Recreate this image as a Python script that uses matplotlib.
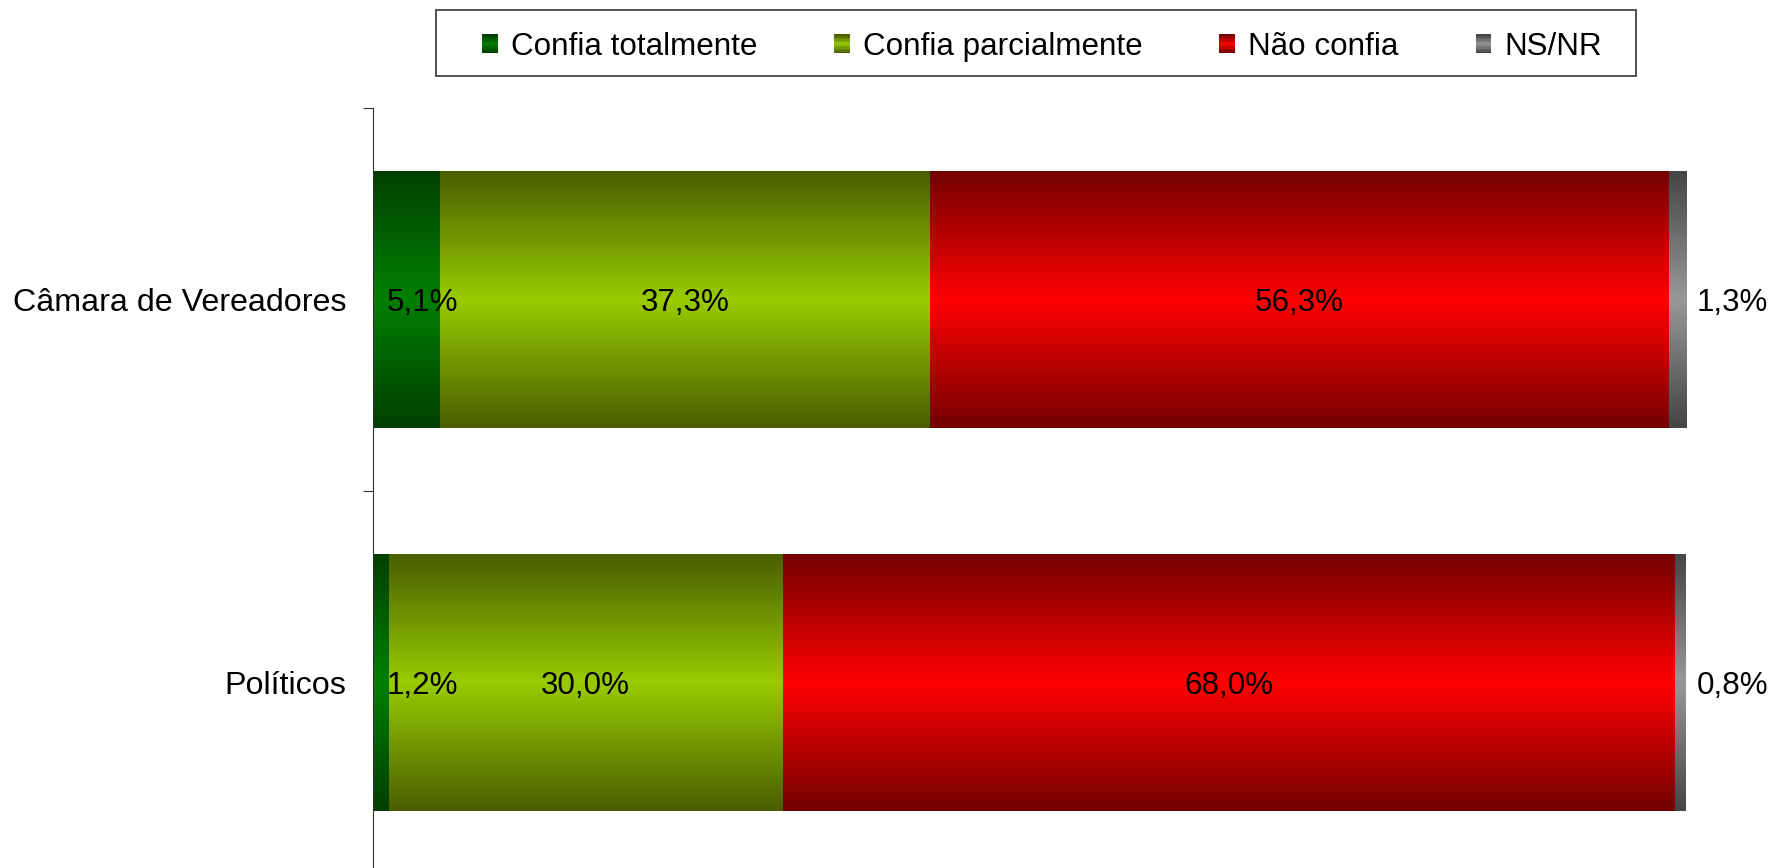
import numpy as np
import matplotlib
matplotlib.use('Agg')
import matplotlib.pyplot as plt
import matplotlib.patches as mpatches
from matplotlib.legend_handler import HandlerBase

plt.rcParams['font.family'] = ['Liberation Sans', 'DejaVu Sans']

# dados
categorias = ["Políticos", "Câmara de Vereadores"]
series = ["Confia totalmente", "Confia parcialmente", "Não confia", "NS/NR"]
confia_totalmente = [1.2, 5.1]
confia_parcialmente = [30.0, 37.3]
nao_confia = [68.0, 56.3]
ns_nr = [0.8, 1.3]
valores = [confia_totalmente, confia_parcialmente, nao_confia, ns_nr]

# cores: (centro, borda) do degradê
cores = {
    "Confia totalmente": ("#008000", "#003f00"),
    "Confia parcialmente": ("#99cc00", "#4a5e00"),
    "Não confia": ("#ff0000", "#730000"),
    "NS/NR": ("#989898", "#454545"),
}


def degrade(centro, borda, n=200):
    c = np.array(matplotlib.colors.to_rgb(centro))
    b = np.array(matplotlib.colors.to_rgb(borda))
    s = np.abs(np.linspace(-1, 1, n))[:, None]
    return (c * (1 - s) + b * s)[:, None, :]


class GradHandler(HandlerBase):
    def create_artists(self, legend, orig_handle, xdescent, ydescent,
                       width, height, fontsize, trans):
        centro, borda = cores[orig_handle.get_label()]
        grad = degrade(centro, borda, 12)[:, 0, :]
        arts = []
        n = len(grad)
        for i, col in enumerate(grad):
            r = mpatches.Rectangle((-xdescent, -ydescent + height * i / n),
                                   width, height / n + 0.3, facecolor=col,
                                   edgecolor='none', transform=trans)
            arts.append(r)
        return arts


fig = plt.figure(figsize=(17.71, 8.68), dpi=100)
ax = fig.add_axes([373 / 1771, -6 / 868, (1686 - 373) / 1771, 766 / 868])

y = np.arange(len(categorias))
esquerda = np.zeros(len(categorias))
fs = 22.6
for nome, vals in zip(series, valores):
    bars = ax.barh(y, vals, left=esquerda, height=0.67, color='none',
                   edgecolor='none')
    centro, borda = cores[nome]
    img = degrade(centro, borda)
    for b, v, l in zip(bars, vals, esquerda):
        x0, y0 = b.get_x(), b.get_y()
        ax.imshow(img, extent=(x0, x0 + b.get_width(), y0, y0 + b.get_height()),
                  aspect='auto', interpolation='bilinear', zorder=2)
        txt = f"{v:.1f}%".replace('.', ',')
        yc = y0 + b.get_height() / 2
        if nome == "Confia totalmente":
            ax.annotate(txt, (0, yc), xytext=(10, 0), textcoords='offset points',
                        ha='left', va='center_baseline', fontsize=fs, zorder=3)
        elif nome == "NS/NR":
            ax.annotate(txt, (x0 + b.get_width(), yc), xytext=(8, 0),
                        textcoords='offset points', ha='left',
                        va='center_baseline', fontsize=fs, zorder=3)
        else:
            ax.text(x0 + b.get_width() / 2, yc, txt, ha='center',
                    va='center_baseline', fontsize=fs, zorder=3)
    esquerda = esquerda + np.array(vals)

ax.set_xlim(0, 100)
ax.set_ylim(-0.5, 1.5)
ax.set_xticks([])
ax.set_yticks([-0.5, 0.5, 1.5])
ax.set_yticklabels([])
ax.set_yticks(y, minor=True)
ax.set_yticklabels(categorias, minor=True, fontsize=23.2)
ax.tick_params(axis='y', which='major', length=7, direction='out', color='#333333')
ax.tick_params(axis='y', which='minor', length=0, pad=19)
for s in ['top', 'right', 'bottom']:
    ax.spines[s].set_visible(False)
ax.spines['left'].set_color('#333333')

handles = [mpatches.Patch(label=s) for s in series]
fig.legend(handles=handles, loc='center', bbox_to_anchor=(1042 / 1771, 1 - 47 / 868),
           ncol=4, frameon=False, fontsize=fs, handlelength=0.5, handleheight=0.56,
           handletextpad=0.42, columnspacing=2.45,
           handler_map={mpatches.Patch: GradHandler()})
fig.patches.append(mpatches.Rectangle((436 / 1771, 1 - 76 / 868), 1200 / 1771, 66 / 868,
                                      transform=fig.transFigure, fill=False,
                                      edgecolor='#333333', linewidth=1.2))

fig.savefig('out.png', dpi=100)
